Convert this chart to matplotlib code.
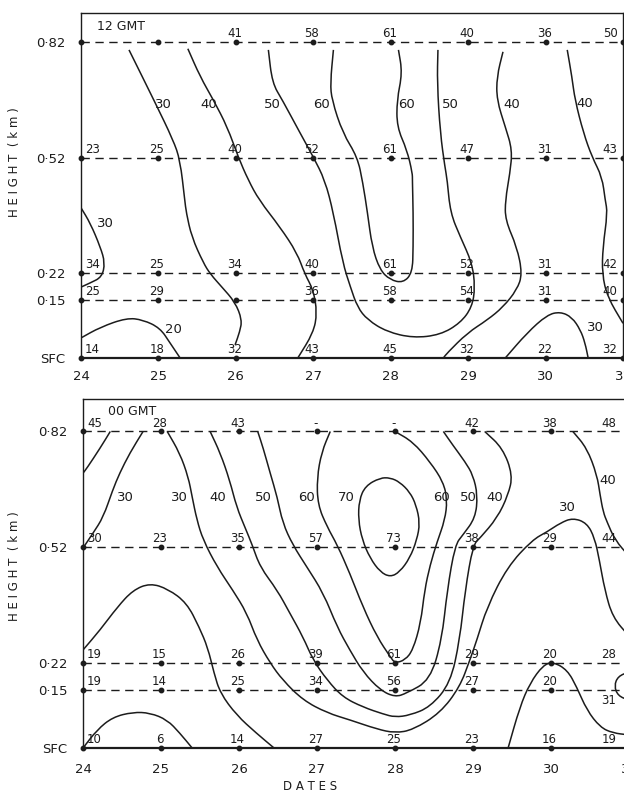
import numpy as np
import matplotlib.pyplot as plt
from matplotlib.path import Path
from matplotlib.patches import PathPatch

# time-height section, station values at each level (12 GMT and 00 GMT)
dates = [24, 25, 26, 27, 28, 29, 30, 31]
levels = [0.0, 0.15, 0.22, 0.52, 0.82]
level_labels = ['SFC', '0·15', '0·22', '0·52', '0·82']

gmt12_sfc = [14, 18, 32, 43, 45, 32, 22, 32]
gmt12_015 = [25, 29, None, 36, 58, 54, 31, 40]
gmt12_022 = [34, 25, 34, 40, 61, 52, 31, 42]
gmt12_052 = [23, 25, 40, 52, 61, 47, 31, 43]
gmt12_082 = [None, None, 41, 58, 61, 40, 36, 50]

gmt00_sfc = [10, 6, 14, 27, 25, 23, 16, 19]
gmt00_015 = [19, 14, 25, 34, 56, 27, 20, 31]
gmt00_022 = [19, 15, 26, 39, 61, 29, 20, 28]
gmt00_052 = [30, 23, 35, 57, 73, 38, 29, 44]
gmt00_082 = [45, 28, 43, None, None, 42, 38, 48]   # None drawn as '-'

# hand analysed isolines, (date, height km)
# 12 GMT
t12_20 = [(24.0, 0.052), (24.25, 0.08), (24.59, 0.104), (24.80, 0.099),
          (25.02, 0.078), (25.15, 0.039), (25.28, 0.0)]
t12_30a = [(24.0, 0.39), (24.12, 0.35), (24.25, 0.288), (24.31, 0.247),
           (24.27, 0.21), (24.12, 0.195), (24.0, 0.184)]
t12_30b = [(24.62, 0.80), (24.96, 0.662), (25.19, 0.566), (25.28, 0.514),
           (25.34, 0.41), (25.36, 0.377), (25.43, 0.314), (25.58, 0.247),
           (25.67, 0.218), (25.82, 0.184), (25.99, 0.145), (26.08, 0.099),
           (26.05, 0.068), (25.99, 0.034)]
t12_40a = [(25.38, 0.803), (25.54, 0.73), (25.71, 0.67), (25.89, 0.60),
           (26.03, 0.522), (26.16, 0.462), (26.30, 0.41), (26.57, 0.34),
           (26.79, 0.273), (26.89, 0.218), (27.0, 0.177), (27.05, 0.117),
           (27.0, 0.065), (26.80, 0.0)]
t12_50 = [(26.42, 0.80), (26.47, 0.714), (26.60, 0.67), (26.83, 0.584),
          (27.00, 0.522), (27.15, 0.462), (27.26, 0.377), (27.38, 0.247),
          (27.48, 0.184), (27.57, 0.132), (27.70, 0.099), (27.95, 0.068),
          (28.29, 0.052), (28.64, 0.06), (28.90, 0.091), (29.05, 0.132),
          (29.09, 0.184), (29.05, 0.247), (28.90, 0.314), (28.77, 0.377),
          (28.73, 0.462), (28.70, 0.496), (28.64, 0.584), (28.60, 0.714),
          (28.61, 0.80)]
t12_60 = [(27.26, 0.80), (27.22, 0.714), (27.24, 0.67), (27.38, 0.584),
          (27.57, 0.522), (27.64, 0.455), (27.70, 0.377), (27.76, 0.288),
          (27.86, 0.229), (27.99, 0.203), (28.16, 0.195), (28.28, 0.221),
          (28.29, 0.288), (28.29, 0.377), (28.28, 0.462), (28.28, 0.48),
          (28.21, 0.54), (28.08, 0.60), (28.08, 0.67), (28.15, 0.74),
          (28.10, 0.80)]
t12_40b = [(29.45, 0.795), (29.37, 0.73), (29.37, 0.67), (29.48, 0.60),
           (29.57, 0.54), (29.54, 0.48), (29.48, 0.41), (29.48, 0.358),
           (29.63, 0.288), (29.70, 0.218), (29.63, 0.177), (29.45, 0.132),
           (29.25, 0.099), (28.99, 0.065), (28.73, 0.013), (28.68, 0.0)]
t12_40c = [(30.28, 0.80), (30.34, 0.73), (30.38, 0.67), (30.49, 0.584),
           (30.60, 0.522), (30.73, 0.47), (30.77, 0.41), (30.80, 0.377),
           (30.74, 0.288), (30.73, 0.218), (30.80, 0.158), (31.0, 0.09)]
t12_30c = [(29.48, 0.0), (29.76, 0.065), (30.02, 0.112), (30.19, 0.12),
           (30.34, 0.106), (30.45, 0.073), (30.51, 0.039), (30.55, 0.0)]

# 00 GMT
t00_10 = [(24.0, 0.0), (24.18, 0.047), (24.38, 0.080), (24.64, 0.093),
          (24.86, 0.091), (25.08, 0.073), (25.24, 0.039), (25.40, 0.0)]
t00_20a = [(24.0, 0.254), (24.22, 0.306), (24.44, 0.365), (24.64, 0.409),
           (24.86, 0.427), (25.09, 0.412), (25.33, 0.376), (25.49, 0.313),
           (25.60, 0.26), (25.68, 0.194), (25.76, 0.142), (25.97, 0.085),
           (26.22, 0.039), (26.45, 0.0)]
t00_30a = [(24.77, 0.82), (24.60, 0.764), (24.47, 0.712), (24.38, 0.668),
           (24.26, 0.598), (24.13, 0.557), (24.0, 0.518)]
t00_40a = [(24.35, 0.82), (24.22, 0.777), (24.05, 0.725), (24.0, 0.712)]
t00_30b = [(25.08, 0.82), (25.24, 0.764), (25.35, 0.702), (25.40, 0.65),
           (25.46, 0.591), (25.54, 0.539), (25.72, 0.469), (25.92, 0.409),
           (26.10, 0.35), (26.23, 0.28), (26.40, 0.22), (26.56, 0.176),
           (26.82, 0.124), (27.13, 0.091), (27.42, 0.073), (27.77, 0.049),
           (28.0, 0.039), (28.23, 0.047), (28.58, 0.091), (28.83, 0.158),
           (28.96, 0.228), (29.05, 0.28), (29.18, 0.365), (29.44, 0.469),
           (29.76, 0.539), (29.95, 0.56), (30.12, 0.583), (30.28, 0.596),
           (30.46, 0.583), (30.56, 0.544), (30.62, 0.487), (30.69, 0.409),
           (30.79, 0.339), (31.0, 0.29)]
t00_40b = [(25.63, 0.82), (25.76, 0.764), (25.88, 0.694), (25.97, 0.624),
           (26.08, 0.57), (26.17, 0.526), (26.27, 0.469), (26.49, 0.409),
           (26.65, 0.35), (26.82, 0.288), (26.95, 0.228), (27.13, 0.176),
           (27.33, 0.132), (27.59, 0.106), (27.85, 0.088), (28.0, 0.08),
           (28.19, 0.085), (28.45, 0.106), (28.71, 0.168), (28.83, 0.28),
           (28.90, 0.409), (29.0, 0.526), (29.09, 0.544), (29.31, 0.596),
           (29.45, 0.655), (29.51, 0.707), (29.38, 0.777), (29.15, 0.82)]
t00_50 = [(26.24, 0.82), (26.31, 0.777), (26.40, 0.712), (26.49, 0.65),
          (26.56, 0.583), (26.69, 0.526), (26.87, 0.469), (27.08, 0.402),
          (27.26, 0.313), (27.42, 0.254), (27.59, 0.197), (27.81, 0.15),
          (28.0, 0.132), (28.15, 0.142), (28.45, 0.176), (28.60, 0.28),
          (28.67, 0.409), (28.77, 0.526), (28.87, 0.552), (29.03, 0.596),
          (29.06, 0.655), (29.0, 0.707), (28.90, 0.741), (28.74, 0.785),
          (28.62, 0.82)]
t00_60 = [(27.17, 0.82), (27.06, 0.767), (27.0, 0.70), (27.01, 0.63),
          (27.13, 0.573), (27.26, 0.526), (27.42, 0.453), (27.59, 0.365),
          (27.77, 0.288), (27.94, 0.236), (28.0, 0.22), (28.13, 0.228),
          (28.23, 0.254), (28.33, 0.324), (28.38, 0.409), (28.45, 0.474),
          (28.54, 0.534), (28.64, 0.591), (28.67, 0.642), (28.62, 0.689),
          (28.45, 0.741), (28.23, 0.793), (28.0, 0.82)]
t00_70 = [(27.81, 0.70), (27.62, 0.679), (27.54, 0.642), (27.53, 0.591),
          (27.58, 0.539), (27.68, 0.492), (27.81, 0.456), (27.94, 0.443),
          (28.06, 0.456), (28.19, 0.492), (28.28, 0.539), (28.32, 0.583),
          (28.27, 0.63), (28.19, 0.663), (28.06, 0.689), (27.94, 0.70),
          (27.81, 0.70)]
t00_40c = [(30.28, 0.82), (30.46, 0.777), (30.59, 0.707), (30.63, 0.655),
           (30.67, 0.611), (30.72, 0.585), (30.82, 0.539), (31.0, 0.497)]
t00_20b = [(29.45, 0.0), (29.60, 0.106), (29.73, 0.168), (29.90, 0.215),
           (30.03, 0.223), (30.21, 0.202), (30.33, 0.158), (30.46, 0.098),
           (30.63, 0.054), (30.79, 0.039), (31.0, 0.034)]
t00_30c = [(31.0, 0.197), (30.86, 0.186), (30.81, 0.161), (30.86, 0.135),
           (31.0, 0.124)]

# isoline labels: (text, date, height)
lab12 = [('30', 25.06, 0.657), ('40', 25.65, 0.657), ('50', 26.47, 0.657),
         ('60', 27.11, 0.657), ('60', 28.21, 0.657), ('50', 28.77, 0.657),
         ('40', 29.56, 0.657), ('40', 30.51, 0.66), ('30', 24.31, 0.35),
         ('20', 25.19, 0.074), ('30', 30.65, 0.08)]
lab00 = [('30', 24.54, 0.648), ('30', 25.24, 0.648),
         ('40', 25.73, 0.648), ('50', 26.31, 0.648), ('60', 26.87, 0.65),
         ('70', 27.38, 0.65), ('60', 28.59, 0.65), ('50', 28.94, 0.65),
         ('40', 29.28, 0.65), ('30', 30.21, 0.624), ('40', 30.73, 0.694)]

ink = '#1c1c1c'
plt.rcParams['font.family'] = 'DejaVu Sans'

fig = plt.figure(figsize=(6.24, 7.93), dpi=100)
ax_top = fig.add_axes([0.1298, 0.5486, 0.8686, 0.4351])
ax_bot = fig.add_axes([0.1330, 0.0567, 0.8750, 0.4401])


def smooth_path(pts):
    # quadratic bezier through midpoints, traced points act as control points
    closed = pts[0] == pts[-1]
    p = [np.array(q, float) for q in (pts[:-1] if closed else pts)]
    n = len(p)
    verts, codes = [], []
    if closed:
        verts.append((p[-1] + p[0]) / 2)
        codes.append(Path.MOVETO)
        for i in range(n):
            verts += [p[i], (p[i] + p[(i + 1) % n]) / 2]
            codes += [Path.CURVE3, Path.CURVE3]
    else:
        verts += [p[0], (p[0] + p[1]) / 2]
        codes += [Path.MOVETO, Path.LINETO]
        for i in range(1, n - 1):
            verts += [p[i], (p[i] + p[i + 1]) / 2]
            codes += [Path.CURVE3, Path.CURVE3]
        verts.append(p[-1])
        codes.append(Path.LINETO)
    return Path(verts, codes)


def draw_panel(ax, rows, isolines, labels, ytop, missing, right_dx, tag, tag_xy):
    ax.set_xlim(24, 31)
    ax.set_ylim(0, ytop)
    # dashed level lines
    for lv in levels[1:]:
        ax.axhline(lv, color=ink, lw=1.0, ls=(0, (6, 4)), zorder=1)
    # station dots and values
    for lv, vals in zip(levels, rows):
        ax.plot(dates, [lv] * len(dates), ls='none', marker='o', ms=3.2,
                color=ink, zorder=3, clip_on=False)
        for d, v in zip(dates, vals):
            txt = str(v) if v is not None else missing
            if not txt:
                continue
            if d == 24:
                ha, dx = 'left', 3
            elif d == 31:
                ha, dx = 'right', right_dx
            else:
                ha, dx = 'center', -1
            dy = 3.5
            va = 'baseline'
            if d == 31 and lv == 0.15 and tag == '00 GMT':
                dy, va = -3, 'top'
            ax.annotate(txt, (d, lv), xytext=(dx, dy), textcoords='offset points',
                        ha=ha, va=va, fontsize=8.5, color=ink)
    for line in isolines:
        ax.add_patch(PathPatch(smooth_path(line), fill=False, edgecolor=ink,
                               lw=1.1, zorder=2))
    for txt, d, h in labels:
        ax.text(d, h, txt, ha='center', va='center', fontsize=9.5, color=ink)
    ax.text(tag_xy[0], tag_xy[1], tag, transform=ax.transAxes, fontsize=9,
            color=ink, va='baseline')
    ax.set_xticks(dates)
    ax.set_yticks(levels)
    ax.set_yticklabels(level_labels)
    ax.tick_params(length=0, labelsize=9.5, colors=ink)
    for s in ax.spines.values():
        s.set_color(ink)
        s.set_linewidth(1.0)
    ax.spines['bottom'].set_linewidth(1.6)


draw_panel(ax_top,
           [gmt12_sfc, gmt12_015, gmt12_022, gmt12_052, gmt12_082],
           [t12_20, t12_30a, t12_30b, t12_40a, t12_50, t12_60, t12_40b,
            t12_40c, t12_30c],
           lab12, 0.896, '', -4, '12 GMT', (0.03, 0.95))
draw_panel(ax_bot,
           [gmt00_sfc, gmt00_015, gmt00_022, gmt00_052, gmt00_082],
           [t00_10, t00_20a, t00_30a, t00_40a, t00_30b, t00_40b, t00_50,
            t00_60, t00_70, t00_40c, t00_20b, t00_30c],
           lab00, 0.904, '-', -9, '00 GMT', (0.046, 0.954))

ax_top.tick_params(axis='x', pad=9)
ax_bot.tick_params(axis='x', pad=11)
ax_top.tick_params(axis='y', pad=11)
ax_bot.tick_params(axis='y', pad=11)

fig.text(0.024, 0.796, 'H E I G H T  ( k m )', rotation=90, ha='center',
         va='center', fontsize=8.5, color=ink)
fig.text(0.024, 0.286, 'H E I G H T  ( k m )', rotation=90, ha='center',
         va='center', fontsize=8.5, color=ink)
fig.text(0.497, 0.008, 'D A T E S', ha='center', va='center', fontsize=8.5,
         color=ink)

fig.savefig('out.png', dpi=100, facecolor='white')
